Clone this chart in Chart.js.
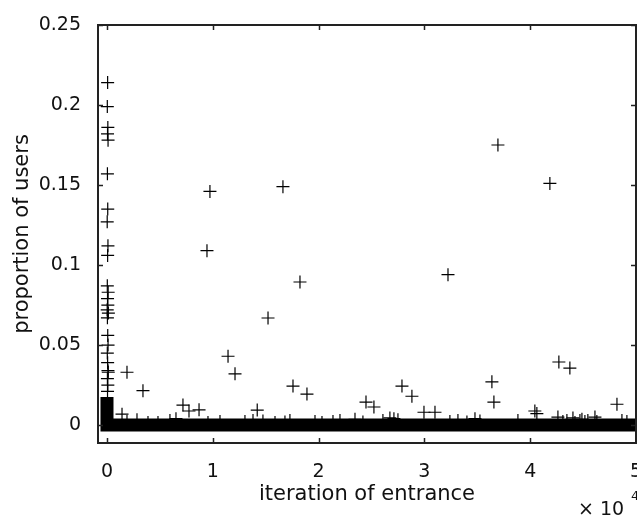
<!DOCTYPE html>
<html>
<head>
<meta charset="utf-8">
<script src="https://cdn.jsdelivr.net/npm/chart.js@4"></script>
<style>
  html, body { margin: 0; padding: 0; background: #fff; }
  #wrap { width: 637px; height: 518px; }
</style>
</head>
<body>
<div id="wrap"><canvas id="entranceChart"></canvas></div>
<script>
// ticks (x is in iterations, labelled as multiples of 10^4)
const xTickValues = [0, 10000, 20000, 30000, 40000, 50000];
const yTickValues = [0, 0.05, 0.1, 0.15, 0.2, 0.25];

// users who came in at the very first iterations
const earlyX = [60, 30, 80, 50, 100, 40, 70, 20, 90, 60, 30, 110, 50, 80, 20, 130, 40, 70, 100, 30, 60, 90, 120, 40, 80, 50];
const earlyY = [0.214, 0.199, 0.186, 0.182, 0.178, 0.157, 0.135, 0.127, 0.112, 0.106, 0.087, 0.083, 0.079, 0.075, 0.072, 0.070, 0.067, 0.056, 0.050, 0.045, 0.039, 0.034, 0.033, 0.029, 0.025, 0.021];

// scattered points later on
const laterX = [1420, 1890, 3400, 7180, 7750, 8700, 9450, 9730, 11440, 12100, 14200, 15220, 16630, 17580, 18240, 18900, 24480, 25230, 27880, 28820, 29960, 31000, 32230, 36380, 36570, 36950, 40440, 40630, 41860, 42710, 43750, 48200];
const laterY = [0.0068, 0.033, 0.0215, 0.0125, 0.0088, 0.0095, 0.109, 0.146, 0.043, 0.032, 0.0094, 0.0669, 0.149, 0.0244, 0.0894, 0.0194, 0.0144, 0.0113, 0.0244, 0.018, 0.008, 0.008, 0.094, 0.027, 0.0144, 0.175, 0.0088, 0.0072, 0.151, 0.0394, 0.0356, 0.013];

// small values poking out of the floor
const lowX = [1890, 2835, 3875, 4820, 5950, 6520, 9545, 10680, 13040, 13800, 14740, 15880, 16820, 17290, 19660, 20320, 21360, 22020, 23440, 24190, 26080, 26740, 27120, 27500, 32410, 33170, 34020, 34780, 35250, 38840, 42620, 43090, 43470, 44040, 44230, 44700, 44890, 45170, 45450, 46120, 46300, 48670, 49140];
const lowY = [0.0022, 0.0034, 0.0016, 0.0016, 0.0028, 0.004, 0.0016, 0.0022, 0.0022, 0.0028, 0.0025, 0.0016, 0.002, 0.0028, 0.0022, 0.0016, 0.0022, 0.0028, 0.0036, 0.002, 0.0028, 0.0045, 0.004, 0.0034, 0.0022, 0.0028, 0.002, 0.004, 0.0025, 0.0028, 0.005, 0.0022, 0.0028, 0.0045, 0.0016, 0.0028, 0.0036, 0.0022, 0.0028, 0.005, 0.0022, 0.0028, 0.0022];

// the dense floor of markers near zero (merges into a solid band)
const floorX = [0, 0, 50000];
const floorY = [0.0175, 0, 0];

const MARK = 6.5;

function pts(xs, ys) {
  return xs.map((x, i) => ({ x: x, y: ys[i] }));
}

function crosses(xs, ys) {
  return {
    data: pts(xs, ys),
    pointStyle: 'cross',
    pointRadius: MARK,
    borderColor: '#000',
    borderWidth: 1.2,
    showLine: false
  };
}

// box, inward ticks and the x10^4 note
const frame = {
  id: 'frame',
  afterDatasetsDraw(chart) {
    const { ctx, chartArea: a, scales } = chart;
    ctx.save();
    ctx.strokeStyle = '#222';
    ctx.lineWidth = 2;
    ctx.beginPath();
    ctx.rect(a.left, a.top, a.right - a.left, a.bottom - a.top);
    ctx.stroke();
    ctx.lineWidth = 1.5;
    ctx.beginPath();
    scales.x.ticks.forEach(t => {
      const p = Math.round(scales.x.getPixelForValue(t.value)) + 0.5;
      ctx.moveTo(p, a.bottom); ctx.lineTo(p, a.bottom - 5);
      ctx.moveTo(p, a.top); ctx.lineTo(p, a.top + 5);
    });
    scales.y.ticks.forEach(t => {
      const p = Math.round(scales.y.getPixelForValue(t.value)) + 0.5;
      ctx.moveTo(a.left, p); ctx.lineTo(a.left + 5, p);
      ctx.moveTo(a.right, p); ctx.lineTo(a.right - 5, p);
    });
    ctx.stroke();
    ctx.fillStyle = '#111';
    ctx.textBaseline = 'alphabetic';
    ctx.font = '19px "DejaVu Sans"';
    ctx.fillText('\u00d7 10', 578, 515);
    ctx.font = '13px "DejaVu Sans"';
    ctx.fillText('4', 631, 500);
    ctx.restore();
  }
};

const ctx = document.getElementById('entranceChart').getContext('2d');
new Chart(ctx, {
  type: 'scatter',
  data: {
    datasets: [
      {
        data: pts(floorX, floorY),
        showLine: true,
        borderColor: '#000',
        borderWidth: 2 * MARK,
        borderCapStyle: 'butt',
        borderJoinStyle: 'miter',
        pointRadius: 0,
        tension: 0
      },
      crosses(lowX, lowY),
      crosses(laterX, laterY),
      crosses(earlyX, earlyY)
    ]
  },
  options: {
    responsive: true,
    maintainAspectRatio: false,
    animation: false,
    events: [],
    layout: { autoPadding: false, padding: { top: 25, right: 1, left: 0, bottom: 0 } },
    plugins: {
      legend: { display: false },
      tooltip: { enabled: false }
    },
    scales: {
      x: {
        type: 'linear',
        min: -850,
        max: 50000,
        grid: { display: false },
        border: { display: false },
        afterBuildTicks: s => { s.ticks = xTickValues.map(v => ({ value: v })); },
        afterFit: s => { s.height = 75; s.paddingLeft = 0; s.paddingRight = 0; },
        ticks: {
          padding: 10,
          color: '#111',
          font: { family: 'DejaVu Sans', size: 19 },
          maxRotation: 0,
          callback: v => String(v / 10000)
        },
        title: {
          display: true,
          text: 'iteration of entrance',
          color: '#111',
          font: { family: 'DejaVu Sans', size: 21 },
          padding: { bottom: 11 }
        }
      },
      y: {
        type: 'linear',
        min: -0.0112,
        max: 0.25,
        grid: { display: false },
        border: { display: false },
        afterBuildTicks: s => { s.ticks = yTickValues.map(v => ({ value: v })); },
        afterFit: s => { s.width = 98; s.paddingTop = 0; s.paddingBottom = 0; },
        ticks: {
          padding: 9,
          color: '#111',
          font: { family: 'DejaVu Sans', size: 19 },
          callback: v => String(v)
        },
        title: {
          display: true,
          text: 'proportion of users',
          color: '#111',
          font: { family: 'DejaVu Sans', size: 21 },
          padding: { top: 10 }
        }
      }
    }
  },
  plugins: [frame]
});
</script>
</body>
</html>
